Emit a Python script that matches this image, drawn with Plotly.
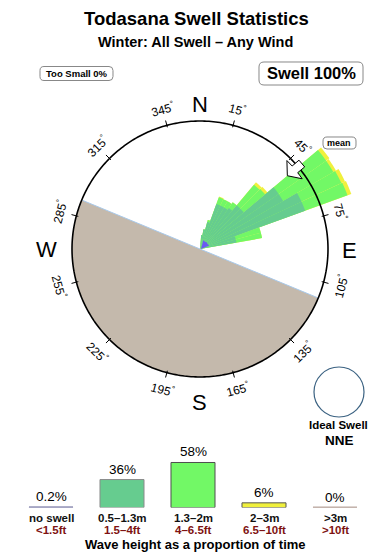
import math
import plotly.graph_objects as go

W, H = 390, 560
CX, CY = 200, 249          # rose centre in pixels
R_CIRCLE = 128             # compass circle radius (rose units == px)
R_MAX = 165                # radial axis range

# ---------------- data ----------------
rose_theta = [7.5, 12.5, 17.5, 22.5, 27.5, 32.5, 37.5, 42.5, 47.5,
              52.5, 57.5, 62.5, 67.5, 72.5, 77.5]
rose_small = [14, 20, 28, 48, 48, 48, 50, 57, 57, 96, 96, 112, 112, 37, 37]   # 0.5-1.3m
rose_mid = [0, 0, 2, 7, 7, 7, 7, 27, 28, 58, 58, 44, 45, 26, 26]             # 1.3-2m
rose_big = [0, 0, 0, 1, 0, 0, 0, 3, 3, 4, 3, 4, 4, 0, 0]                     # 2-3m

land_from, land_to = 112.5, 292.5
mean_dir = 50
deg_ticks = [15, 45, 75, 105, 135, 165, 195, 225, 255, 285, 315, 345]

cats = ["no swell", "0.5\u20131.3m", "1.3\u20132m", "2\u20133m", ">3m"]
cats_ft = ["<1.5ft", "1.5\u20134ft", "4\u20136.5ft", "6.5\u201310ft", ">10ft"]
pct = [0.2, 36, 58, 6, 0]
pct_txt = ["0.2%", "36%", "58%", "6%", "0%"]

C_DARK = "#66CC8F"
C_LIGHT = "#72F866"
C_YEL = "#F0F03C"
cat_colors = ["#9A9ABB", C_DARK, C_LIGHT, C_YEL, "#BBA9A2"]
cat_edges = ["#9A9ABB", "#8A8A8A", "#4E4E4E", "#555555", "#BBA9A2"]
FONT = "Liberation Sans, Arial, sans-serif"


def pp(xp, yp):
    return xp / W, 1 - yp / H


def polar_px(r, b):
    a = math.radians(b)
    return CX + r * math.sin(a), CY - r * math.cos(a)


fig = go.Figure()

# land
fig.add_trace(go.Barpolar(r=[R_CIRCLE], theta=[(land_from + land_to) / 2],
                          width=[land_to - land_from],
                          marker=dict(color="#C4B9AC", line=dict(width=0)),
                          hoverinfo="skip"))

# rose (cumulative, outermost first)
cum1 = rose_small
cum2 = [a + b for a, b in zip(cum1, rose_mid)]
cum3 = [a + b for a, b in zip(cum2, rose_big)]
for vals, col in [(cum3, C_YEL), (cum2, C_LIGHT), (cum1, C_DARK)]:
    fig.add_trace(go.Barpolar(r=vals, theta=rose_theta, width=[5] * len(rose_theta),
                              marker=dict(color=col, line=dict(width=0)),
                              hoverinfo="skip"))

# coast line
fig.add_trace(go.Scatterpolar(r=[R_CIRCLE, 0, R_CIRCLE], theta=[land_to, land_to, land_from],
                              mode="lines", line=dict(color="#A9C9EA", width=1),
                              hoverinfo="skip"))
# compass circle
th = list(range(0, 361))
fig.add_trace(go.Scatterpolar(r=[R_CIRCLE] * len(th), theta=th, mode="lines",
                              line=dict(color="black", width=1.6), hoverinfo="skip"))
# ticks
tr, tt = [], []
for b in deg_ticks:
    tr += [R_CIRCLE - 2, R_CIRCLE + 5, None]
    tt += [b, b, None]
fig.add_trace(go.Scatterpolar(r=tr, theta=tt, mode="lines",
                              line=dict(color="black", width=1), hoverinfo="skip"))
# mean arrow
m = mean_dir
ar = [114, 124, 124, 133, 133, 124, 124, 114]
at = [m, m - 5.5, m - 2, m - 1.9, m + 1.9, m + 2, m + 5.5, m]
fig.add_trace(go.Scatterpolar(r=ar, theta=at, mode="lines", fill="toself",
                              fillcolor="white", line=dict(color="black", width=1),
                              hoverinfo="skip"))

# ---------------- legend bars ----------------
fig.add_trace(go.Bar(x=list(range(5)), y=pct, marker=dict(color=cat_colors,
                     line=dict(color=cat_edges, width=1)), width=0.62,
                     xaxis="x", yaxis="y", hoverinfo="skip"))
for i, p in enumerate(pct):
    if p < 1:
        fig.add_trace(go.Scatter(x=[i - 0.31, i + 0.31], y=[p, p], mode="lines",
                                 line=dict(color=cat_colors[i], width=2.2),
                                 xaxis="x", yaxis="y", hoverinfo="skip"))

ann = []
for i in range(5):
    ann.append(dict(x=i, y=pct[i], xref="x", yref="y", text=pct_txt[i], showarrow=False,
                    yanchor="bottom", yshift=1, font=dict(size=13.5, family=FONT, color="#000")))
    ann.append(dict(x=i, y=0, xref="x", yref="y", text="<b>" + cats[i] + "</b>", showarrow=False,
                    yanchor="middle", yshift=-10, font=dict(size=11.5, family=FONT, color="#111")))
    ann.append(dict(x=i, y=0, xref="x", yref="y",
                    text="<b>" + cats_ft[i].replace("<", "&lt;").replace(">", "&gt;") + "</b>",
                    showarrow=False, yanchor="middle", yshift=-22,
                    font=dict(size=11.5, family=FONT, color="#7E1212")))


def text_px(xp, yp, text, size, bold=False, color="black", angle=0):
    x, y = pp(xp, yp)
    if bold:
        text = "<b>" + text + "</b>"
    ann.append(dict(x=x, y=y, xref="paper", yref="paper", text=text, showarrow=False,
                    xanchor="center", yanchor="middle", textangle=angle,
                    font=dict(size=size, family=FONT, color=color)))


text_px(195, 544, "Wave height as a proportion of time", 13, bold=True)
text_px(196, 19, "Todasana Swell Statistics", 18.5, bold=True)
text_px(195, 42, "Winter: All Swell \u2013 Any Wind", 14.5, bold=True)
text_px(76.5, 73.5, "Too Small 0%", 9.5, bold=True)
text_px(311, 73.5, "Swell 100%", 16.5, bold=True)
text_px(339, 143, "mean", 9, bold=True)
text_px(338.5, 425, "Ideal Swell", 11.5, bold=True)
text_px(339, 440, "NNE", 13.5, bold=True)

for b in deg_ticks:
    xp, yp = polar_px(145, b)
    ang = ((b + 90) % 180) - 90
    text_px(xp, yp, f"{b}<sup>°</sup>", 12, angle=ang)

for lab, xp, yp in [("N", 200, 104), ("E", 349, 251), ("S", 200, 402), ("W", 46, 250)]:
    text_px(xp, yp, lab, 22)

# purple arrow at centre
cx, cy = pp(CX + 1, CY)
ann.append(dict(x=cx, y=cy, xref="paper", yref="paper", showarrow=True, ax=7, ay=-8,
                arrowhead=2, arrowsize=0.8, arrowwidth=2, arrowcolor="#6A5AF0", text=""))

# ---------------- shapes ----------------
shapes = []


def rrect(x0, y0, x1, y1, rad, color="#888", width=1):
    def P(x, y):
        a, b = pp(x, y)
        return f"{a:.5f},{b:.5f}"
    path = (f"M{P(x0 + rad, y0)} L{P(x1 - rad, y0)} Q{P(x1, y0)} {P(x1, y0 + rad)} "
            f"L{P(x1, y1 - rad)} Q{P(x1, y1)} {P(x1 - rad, y1)} L{P(x0 + rad, y1)} "
            f"Q{P(x0, y1)} {P(x0, y1 - rad)} L{P(x0, y0 + rad)} Q{P(x0, y0)} {P(x0 + rad, y0)} Z")
    shapes.append(dict(type="path", path=path, xref="paper", yref="paper",
                       line=dict(color=color, width=width)))


rrect(40, 66.5, 113, 80.5, 4)
rrect(259, 62, 363, 85, 5)
rrect(323, 137, 356, 149, 4)

x0, y0 = pp(314, 367)
x1, y1 = pp(364, 417)
shapes.append(dict(type="circle", xref="paper", yref="paper", x0=x0, y0=y1, x1=x1, y1=y0,
                   line=dict(color="#3B6282", width=1.2)))

# ---------------- layout ----------------
pdx0, _ = pp(CX - R_MAX, 0)
pdx1, _ = pp(CX + R_MAX, 0)
_, pdy0 = pp(0, CY + R_MAX)
_, pdy1 = pp(0, CY - R_MAX)

base_y = 507.5
px_per_pct = 0.776
ytop_px = 450
y_dom0 = 1 - base_y / H
y_dom1 = 1 - ytop_px / H
y_max = (base_y - ytop_px) / px_per_pct
bx0 = (51 - 35.5) / W
bx1 = (51 + 71 * 4.5) / W

fig.update_layout(
    width=W, height=H, autosize=False,
    margin=dict(l=0, r=0, t=0, b=0),
    paper_bgcolor="white", plot_bgcolor="white",
    showlegend=False,
    polar=dict(
        domain=dict(x=[pdx0, pdx1], y=[pdy0, pdy1]),
        bgcolor="rgba(0,0,0,0)",
        barmode="overlay", bargap=0,
        radialaxis=dict(range=[0, R_MAX], visible=False),
        angularaxis=dict(rotation=90, direction="clockwise", visible=False),
    ),
    xaxis=dict(domain=[bx0, bx1], range=[-0.5, 4.5], visible=False, fixedrange=True),
    yaxis=dict(domain=[y_dom0, y_dom1], range=[0, y_max], visible=False, fixedrange=True),
    annotations=ann,
    shapes=shapes,
)

fig.write_html("out.html")
